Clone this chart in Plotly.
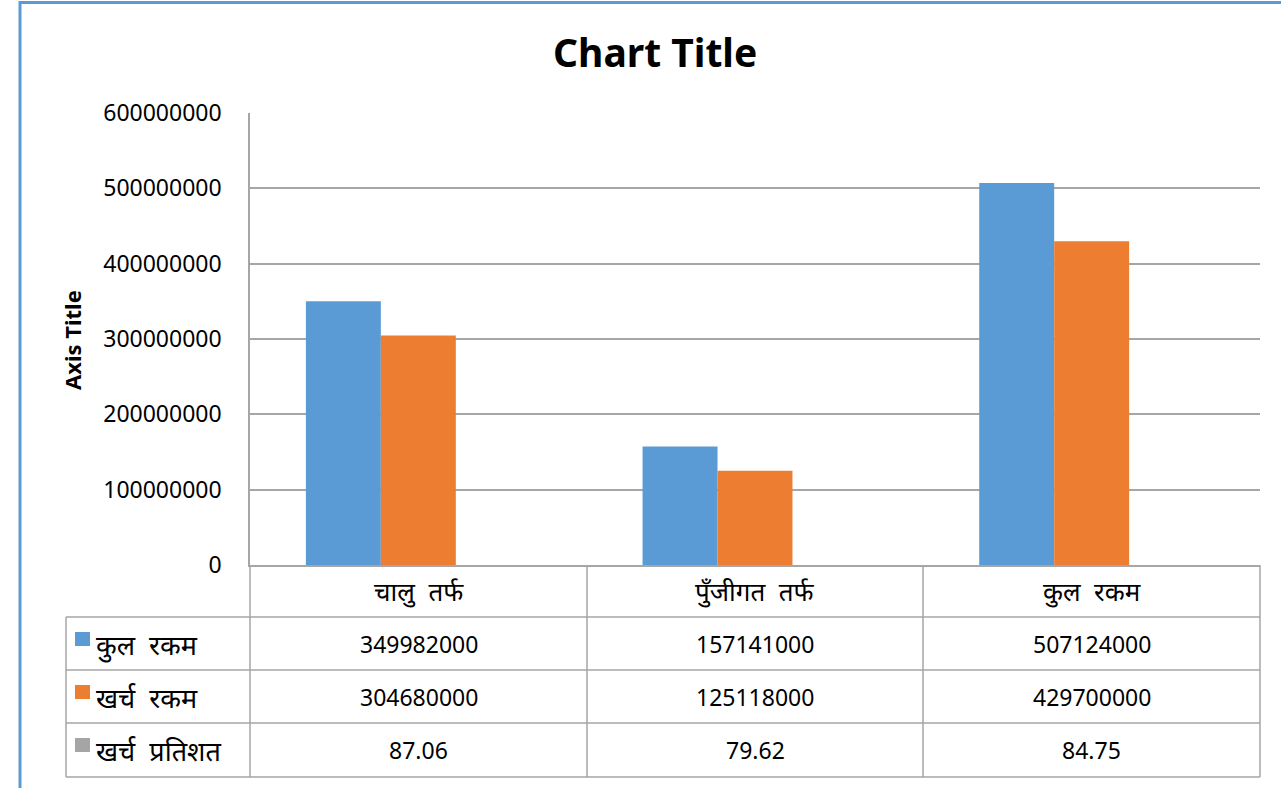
import plotly.graph_objects as go

categories = ["चालु तर्फ", "पुँजीगत तर्फ", "कुल रकम"]
series_names = ["कुल रकम", "खर्च रकम", "खर्च प्रतिशत"]
kul_rakam = [349982000, 157141000, 507124000]
kharcha_rakam = [304680000, 125118000, 429700000]
kharcha_pratishat = [87.06, 79.62, 84.75]
y_ticks = [0, 100000000, 200000000, 300000000, 400000000, 500000000, 600000000]

series_values = [kul_rakam, kharcha_rakam, kharcha_pratishat]
value_labels = [
    ["349982000", "157141000", "507124000"],
    ["304680000", "125118000", "429700000"],
    ["87.06", "79.62", "84.75"],
]
colors = ["#5B9BD5", "#ED7D31", "#A5A5A5"]

W, H = 1281, 788
L, R, T, B = 250, 1260, 113, 565  # pixel coords of plot area
FONT = "Noto Sans, Open Sans, sans-serif"
GRID = "#A6A6A6"


def px(x):
    return (x - L) / (R - L)


def py(y):
    return (B - y) / (B - T)


def dev(s):
    return s.replace(" ", "\u00a0\u00a0")


fig = go.Figure()
for name, vals, c in zip(series_names, series_values, colors):
    fig.add_trace(go.Bar(x=categories, y=vals, name=name, marker=dict(color=c, line=dict(width=0))))

shapes = []
shapes.append(dict(type="rect", xref="paper", yref="paper", x0=px(20), x1=px(1320), y0=py(820), y1=py(2.5),
                   line=dict(color="#5B9BD5", width=3), layer="above"))
for yy in [617, 670, 723, 777]:
    shapes.append(dict(type="line", xref="paper", yref="paper", x0=px(66), x1=px(R), y0=py(yy), y1=py(yy),
                       line=dict(color=GRID, width=1.5)))
for xx, y0 in [(66, 617), (250, 565), (587, 565), (923, 565), (1260, 565)]:
    shapes.append(dict(type="line", xref="paper", yref="paper", x0=px(xx), x1=px(xx), y0=py(y0), y1=py(777),
                       line=dict(color=GRID, width=1.5)))

annotations = []
col_centers = [418.5, 755, 1091.5]
for cx, cat in zip(col_centers, categories):
    annotations.append(dict(x=px(cx), y=py(591), xref="paper", yref="paper", text=dev(cat), showarrow=False,
                            font=dict(family=FONT, size=26, color="#000"), xanchor="center", yanchor="middle"))
row_centers = [644, 697, 750]
for ry, name, labels, c in zip(row_centers, series_names, value_labels, colors):
    shapes.append(dict(type="rect", xref="paper", yref="paper", x0=px(75), x1=px(90), y0=py(ry + 2),
                       y1=py(ry - 12), fillcolor=c, line=dict(width=0)))
    annotations.append(dict(x=px(94), y=py(ry), xref="paper", yref="paper", text=dev(name), showarrow=False,
                            font=dict(family=FONT, size=27, color="#000"), xanchor="left", yanchor="middle"))
    for cx, lab in zip(col_centers, labels):
        annotations.append(dict(x=px(cx), y=py(ry), xref="paper", yref="paper", text=lab, showarrow=False,
                                font=dict(family=FONT, size=23, color="#000"), xanchor="center", yanchor="middle"))

annotations.append(dict(x=px(655), y=py(52), xref="paper", yref="paper", text="<b>Chart Title</b>", showarrow=False,
                        font=dict(family=FONT, size=39, color="#000"), xanchor="center", yanchor="middle"))
annotations.append(dict(x=px(72), y=py(340), xref="paper", yref="paper", text="<b>Axis Title</b>", showarrow=False,
                        textangle=-90, font=dict(family=FONT, size=22, color="#000"), xanchor="center", yanchor="middle"))

fig.update_layout(
    width=W, height=H,
    margin=dict(l=L, r=W - R, t=T, b=H - B),
    paper_bgcolor="white", plot_bgcolor="white",
    barmode="group", bargap=0.332, bargroupgap=0,
    showlegend=False,
    shapes=shapes, annotations=annotations,
    font=dict(family=FONT),
)
fig.update_xaxes(showticklabels=False, showgrid=False, showline=True, linecolor=GRID, linewidth=1.5, ticks="")
fig.update_yaxes(range=[0, 600000000], tickvals=y_ticks, ticktext=[str(v) for v in y_ticks],
                 showgrid=True, gridcolor=GRID, gridwidth=1.5, showline=True, linecolor=GRID, linewidth=1.5,
                 zeroline=False, ticks="outside", ticklen=22, tickcolor="rgba(0,0,0,0)",
                 tickfont=dict(family=FONT, size=23, color="#000"))

fig.write_html("out.html", config={"displayModeBar": False},
               post_script="document.body.style.margin='0';document.body.style.overflow='hidden';")
